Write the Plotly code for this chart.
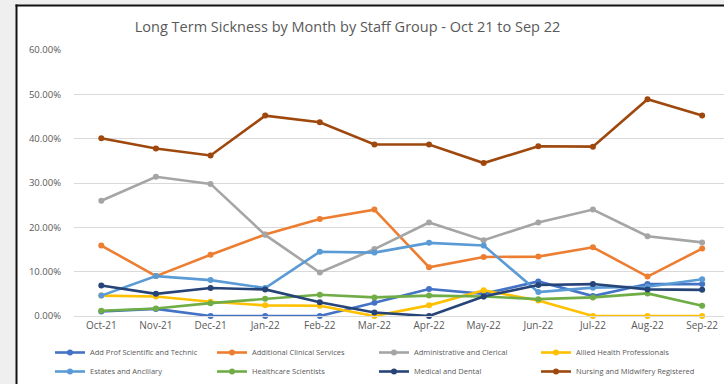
import plotly.graph_objects as go

months = ["Oct-21", "Nov-21", "Dec-21", "Jan-22", "Feb-22", "Mar-22",
          "Apr-22", "May-22", "Jun-22", "Jul-22", "Aug-22", "Sep-22"]

add_prof = [0.010, 0.016, 0.0, 0.0, 0.0, 0.030, 0.061, 0.050, 0.078, 0.045, 0.072, 0.072]
additional_clinical = [0.159, 0.090, 0.138, 0.184, 0.219, 0.240, 0.110, 0.133, 0.134, 0.155, 0.089, 0.152]
admin_clerical = [0.260, 0.314, 0.298, 0.183, 0.098, 0.151, 0.211, 0.171, 0.211, 0.240, 0.180, 0.166]
allied_health = [0.046, 0.044, 0.032, 0.024, 0.023, 0.0, 0.024, 0.058, 0.035, 0.0, 0.0, 0.0]
estates = [0.046, 0.090, 0.081, 0.063, 0.145, 0.143, 0.165, 0.159, 0.054, 0.064, 0.066, 0.083]
healthcare_sci = [0.012, 0.017, 0.029, 0.039, 0.048, 0.042, 0.046, 0.044, 0.038, 0.042, 0.051, 0.023]
medical_dental = [0.069, 0.050, 0.063, 0.060, 0.031, 0.008, 0.0, 0.044, 0.070, 0.072, 0.060, 0.059]
nursing = [0.401, 0.378, 0.362, 0.452, 0.437, 0.387, 0.387, 0.345, 0.383, 0.382, 0.489, 0.452]

series = [
    ("Add Prof Scientific and Technic", add_prof, "#4472C4"),
    ("Additional Clinical Services", additional_clinical, "#ED7D31"),
    ("Administrative and Clerical", admin_clerical, "#A5A5A5"),
    ("Allied Health Professionals", allied_health, "#FFC000"),
    ("Estates and Ancillary", estates, "#5B9BD5"),
    ("Healthcare Scientists", healthcare_sci, "#70AD47"),
    ("Medical and Dental", medical_dental, "#264478"),
    ("Nursing and Midwifery Registered", nursing, "#9E480E"),
]

W, H = 724, 384
L, R, T, B = 74, 0, 50, 68
PW, PH = W - L - R, H - T - B

def px(x):
    return (x - L) / PW

def py(y):
    return (H - B - y) / PH

fig = go.Figure()
for name, vals, color in series:
    fig.add_trace(go.Scatter(
        x=months, y=vals, name=name, mode="lines+markers",
        line=dict(color=color, width=2.6),
        marker=dict(color=color, size=6),
        cliponaxis=False,
    ))

shapes = [
    dict(type="rect", xref="paper", yref="paper", x0=px(-2), x1=px(15.5), y0=py(-2), y1=py(390),
         fillcolor="#efefef", line=dict(width=0), layer="above"),
    dict(type="rect", xref="paper", yref="paper", x0=px(-2), x1=px(730), y0=py(-2), y1=py(4.5),
         fillcolor="#efefef", line=dict(width=0), layer="above"),
    dict(type="line", xref="paper", yref="paper", x0=px(16.5), x1=px(16.5), y0=py(4.5), y1=py(390),
         line=dict(color="#111111", width=2), layer="above"),
    dict(type="line", xref="paper", yref="paper", x0=px(15.5), x1=px(730), y0=py(5.5), y1=py(5.5),
         line=dict(color="#111111", width=2), layer="above"),
]

fig.update_layout(
    width=W, height=H,
    margin=dict(l=L, r=R, t=T, b=B, autoexpand=False),
    paper_bgcolor="white", plot_bgcolor="white",
    font=dict(family="Open Sans", color="#595959"),
    title=dict(text="Long Term Sickness by Month by Staff Group - Oct 21 to Sep 22",
               x=px(386), xanchor="center", y=1 - 27 / H, yanchor="middle",
               font=dict(size=14.5, color="#595959")),
    showlegend=True,
    legend=dict(orientation="h", x=px(50), xanchor="left", y=py(338), yanchor="top",
                entrywidth=117, entrywidthmode="pixels", tracegroupgap=0,
                font=dict(size=7.5, color="#595959"), bgcolor="rgba(0,0,0,0)",
                traceorder="normal"),
    shapes=shapes,
)
fig.update_xaxes(type="category", range=[-0.5, 11.4], showgrid=False,
                 showline=True, linecolor="#d9d9d9", linewidth=1,
                 ticks="", tickfont=dict(size=10, color="#595959"))
fig.update_yaxes(range=[0, 0.6], dtick=0.1, tickformat=".2%",
                 showgrid=True, gridcolor="#d9d9d9", gridwidth=1,
                 zeroline=False, showline=False,
                 ticklabelstandoff=12,
                 tickfont=dict(size=9.5, color="#595959"))

fig.write_html("out.html", config={"displayModeBar": False},
               post_script="document.body.style.margin='0';document.body.style.overflow='hidden';")
